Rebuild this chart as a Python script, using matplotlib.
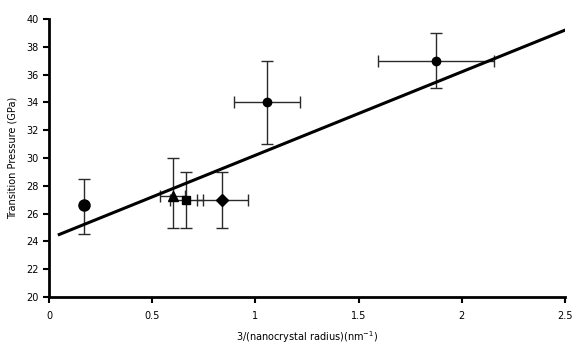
import matplotlib
matplotlib.use("Agg")
import matplotlib.pyplot as plt
import numpy as np

# Data
x_vals = [0.17, 0.60, 0.665, 0.84, 1.057, 1.875]
y_vals = [26.6, 27.3, 27.0, 27.0, 34.0, 37.0]
y_err_low = [2.1, 2.3, 2.0, 2.0, 3.0, 2.0]
y_err_high = [1.9, 2.7, 2.0, 2.0, 3.0, 2.0]
x_err = [0.0, 0.06, 0.08, 0.125, 0.16, 0.28]
markers = ["o", "^", "s", "D", "o", "o"]
marker_sizes = [8, 7, 6, 6, 6, 6]

fit_intercept = 24.2
fit_slope = 6.0
fit_x_range = [0.05, 2.5]

x_ticks = [0, 0.5, 1, 1.5, 2, 2.5]
x_tick_labels = ["0", "0.5", "1", "1.5", "2", "2.5"]
y_ticks = [20, 22, 24, 26, 28, 30, 32, 34, 36, 38, 40]

fig = plt.figure(figsize=(5.76, 3.45), dpi=100)
ax = fig.add_axes([0.085, 0.139, 0.896, 0.806])

for xi, yi, el, eh, xe, m, ms in zip(x_vals, y_vals, y_err_low, y_err_high, x_err, markers, marker_sizes):
    ax.errorbar(xi, yi, yerr=[[el], [eh]], xerr=xe if xe > 0 else None,
                fmt=m, color="black", ms=ms, ecolor="#2a2a2a", elinewidth=1.0,
                capsize=4, capthick=1.0, zorder=3)

fx = np.array(fit_x_range)
ax.plot(fx, fit_intercept + fit_slope * fx, color="black", lw=2.2, zorder=4)

ax.set_xlim(0, 2.5)
ax.set_ylim(20, 40)
ax.set_xticks(x_ticks)
ax.set_xticklabels(x_tick_labels)
ax.set_yticks(y_ticks)
for s in ["top", "right"]:
    ax.spines[s].set_visible(False)
for s in ["left", "bottom"]:
    ax.spines[s].set_linewidth(2)
ax.tick_params(direction="out", length=4, width=1.5, labelsize=7, colors="black")
ax.tick_params(axis="x", pad=6)
ax.set_xlabel("3/(nanocrystal radius)(nm$^{-1}$)", fontsize=7, labelpad=6)
ax.set_ylabel("Transition Pressure (GPa)", fontsize=7, labelpad=6)

fig.savefig("out.png", dpi=100)
